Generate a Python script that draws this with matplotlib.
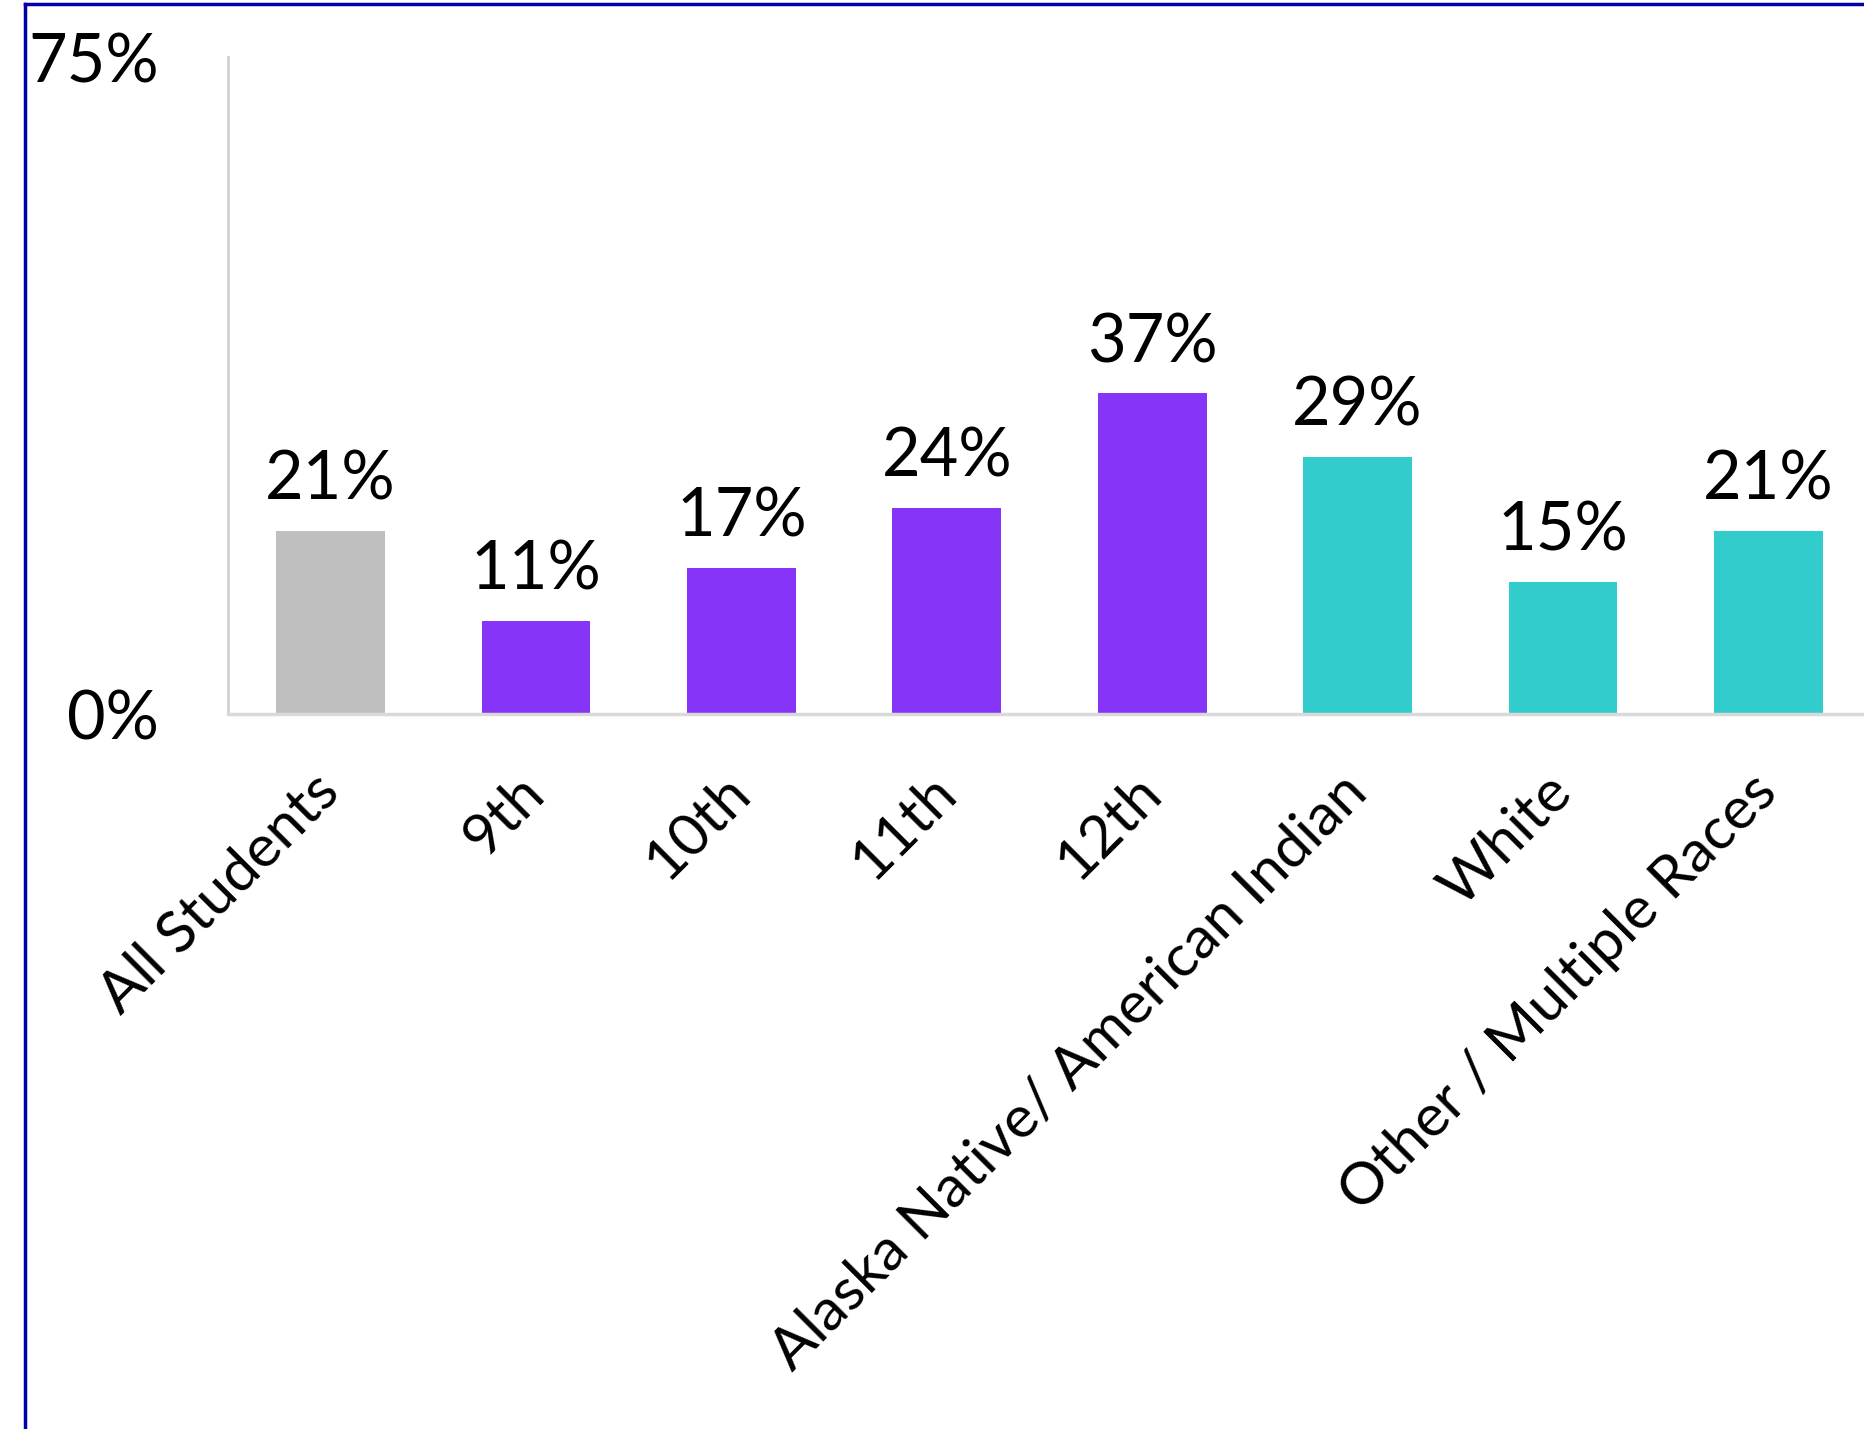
import matplotlib.pyplot as plt
from matplotlib.lines import Line2D

plt.rcParams["font.family"] = ["Lato", "DejaVu Sans"]

# data
categories = ["All Students", "9th", "10th", "11th", "12th",
              "Alaska Native/ American Indian", "White", "Other / Multiple Races"]
values = [20.9, 10.6, 16.7, 23.5, 36.6, 29.4, 15.1, 20.9]
groups = ["all", "grade", "grade", "grade", "grade", "race", "race", "race"]

group_colors = {"all": "#bfbfbf", "grade": "#8634f7", "race": "#33cccc"}

fig = plt.figure(figsize=(18.64, 14.29), dpi=100)
ax = fig.add_axes([0.1223, 0.5003, 0.8815, 0.4597])

x = range(len(categories))
bars = ax.bar(x, values, width=0.53,
              color=[group_colors[g] for g in groups])

for rect, v in zip(bars, values):
    ax.annotate(f"{v:.0f}%", (rect.get_x() + rect.get_width() / 2, rect.get_height()),
                xytext=(0, 14), textcoords="offset points",
                ha="center", va="bottom", fontsize=48)

ax.set_xlim(-0.5, len(categories) - 0.5)
ax.set_ylim(0, 75)
ax.set_yticks([0, 75])
ax.set_yticklabels(["0%", "75%"], fontsize=48)
ax.tick_params(axis="y", length=0, pad=50)
ax.tick_params(axis="x", length=0, pad=50)
ax.set_xticks(list(x))
ax.set_xticklabels(categories, fontsize=42.5, rotation=45,
                   ha="right", va="center", rotation_mode="anchor")

for side in ["top", "right"]:
    ax.spines[side].set_visible(False)
ax.spines["left"].set_color("#d0d0d0")
ax.spines["bottom"].set_color("#d9d9d9")
ax.spines["left"].set_linewidth(2)
ax.spines["bottom"].set_linewidth(2.5)

# blue frame around the slide (top and left edges visible)
fig.add_artist(Line2D([0.0134, 1], [0.9972, 0.9972], color="#0000a8", lw=2.5))
fig.add_artist(Line2D([0.0134, 0.0134], [0, 0.9972], color="#0000a8", lw=2.5))

fig.savefig("out.png", dpi=100)
